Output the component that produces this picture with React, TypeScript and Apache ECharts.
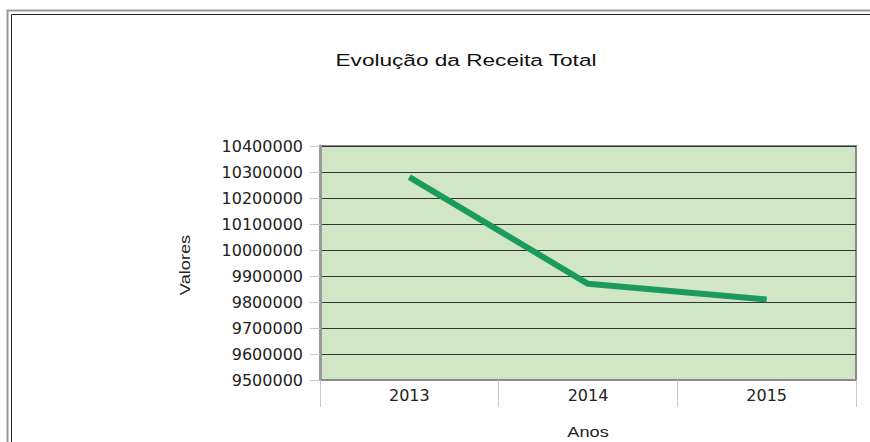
import React, { useEffect, useRef } from "react";
import * as echarts from "echarts";

const categories = ["2013", "2014", "2015"];
const values = [10280000, 9870000, 9810000];
const yMin = 9500000;
const yMax = 10400000;
const yStep = 100000;

export default function App() {
  const ref = useRef<HTMLDivElement>(null);
  useEffect(() => {
    if (!ref.current) return;
    const chart = echarts.init(ref.current, undefined, { renderer: "svg" });
    const font = "'DejaVu Sans', sans-serif";
    const lfont = "'Liberation Sans', Arial, sans-serif";
    chart.setOption({
      animation: false,
      backgroundColor: "#ffffff",
      graphic: [
        { type: "rect", shape: { x: 7.5, y: 10.5, width: 900, height: 500 }, style: { fill: "none", stroke: "#999", lineWidth: 2 } },
        { type: "rect", shape: { x: 11.5, y: 14.5, width: 900, height: 500 }, style: { fill: "none", stroke: "#222", lineWidth: 1 } },
        {
          type: "text",
          x: 466,
          y: 60,
          scaleX: 1.33,
          style: { text: "Evolução da Receita Total", fontFamily: lfont, fontSize: 17, fill: "#111", align: "center", verticalAlign: "middle" },
        },
        {
          type: "text",
          x: 185,
          y: 265,
          rotation: Math.PI / 2,
          scaleX: 1.3,
          style: { text: "Valores", fontFamily: lfont, fontSize: 14, fill: "#222", align: "center", verticalAlign: "middle" },
        },
        {
          type: "text",
          x: 588,
          y: 432,
          scaleX: 1.3,
          style: { text: "Anos", fontFamily: lfont, fontSize: 14, fill: "#222", align: "center", verticalAlign: "middle" },
        },
      ],
      grid: {
        left: 320,
        right: 14,
        top: 146,
        bottom: 62,
        show: true,
        backgroundColor: "#d0e6c4",
        borderColor: "#8a8a8a",
        borderWidth: 2,
      },
      xAxis: {
        type: "category",
        data: categories,
        boundaryGap: true,
        axisLine: { show: true, lineStyle: { color: "#8a8a8a", width: 2 } },
        axisTick: { show: true, length: 27, lineStyle: { color: "#c8c8c8", width: 1 } },
        axisLabel: { fontFamily: font, fontSize: 16, color: "#222", margin: 7 },
        splitLine: { show: false },
      },
      yAxis: {
        type: "value",
        min: yMin,
        max: yMax,
        interval: yStep,
        axisLine: { show: true, lineStyle: { color: "#999", width: 3 } },
        axisTick: { show: true, length: 10, lineStyle: { color: "#c8c8c8" } },
        axisLabel: { fontFamily: font, fontSize: 16, color: "#222", margin: 17, formatter: (v: number) => String(v) },
        splitLine: { show: true, lineStyle: { color: "#333", width: 1 } },
      },
      series: [
        {
          type: "line",
          data: values,
          symbol: "none",
          lineStyle: { color: "#1b9a5c", width: 6 },
        },
      ],
    });
    return () => chart.dispose();
  }, []);
  return <div ref={ref} style={{ width: 870, height: 442, position: "absolute", left: 0, top: 0 }} />;
}
